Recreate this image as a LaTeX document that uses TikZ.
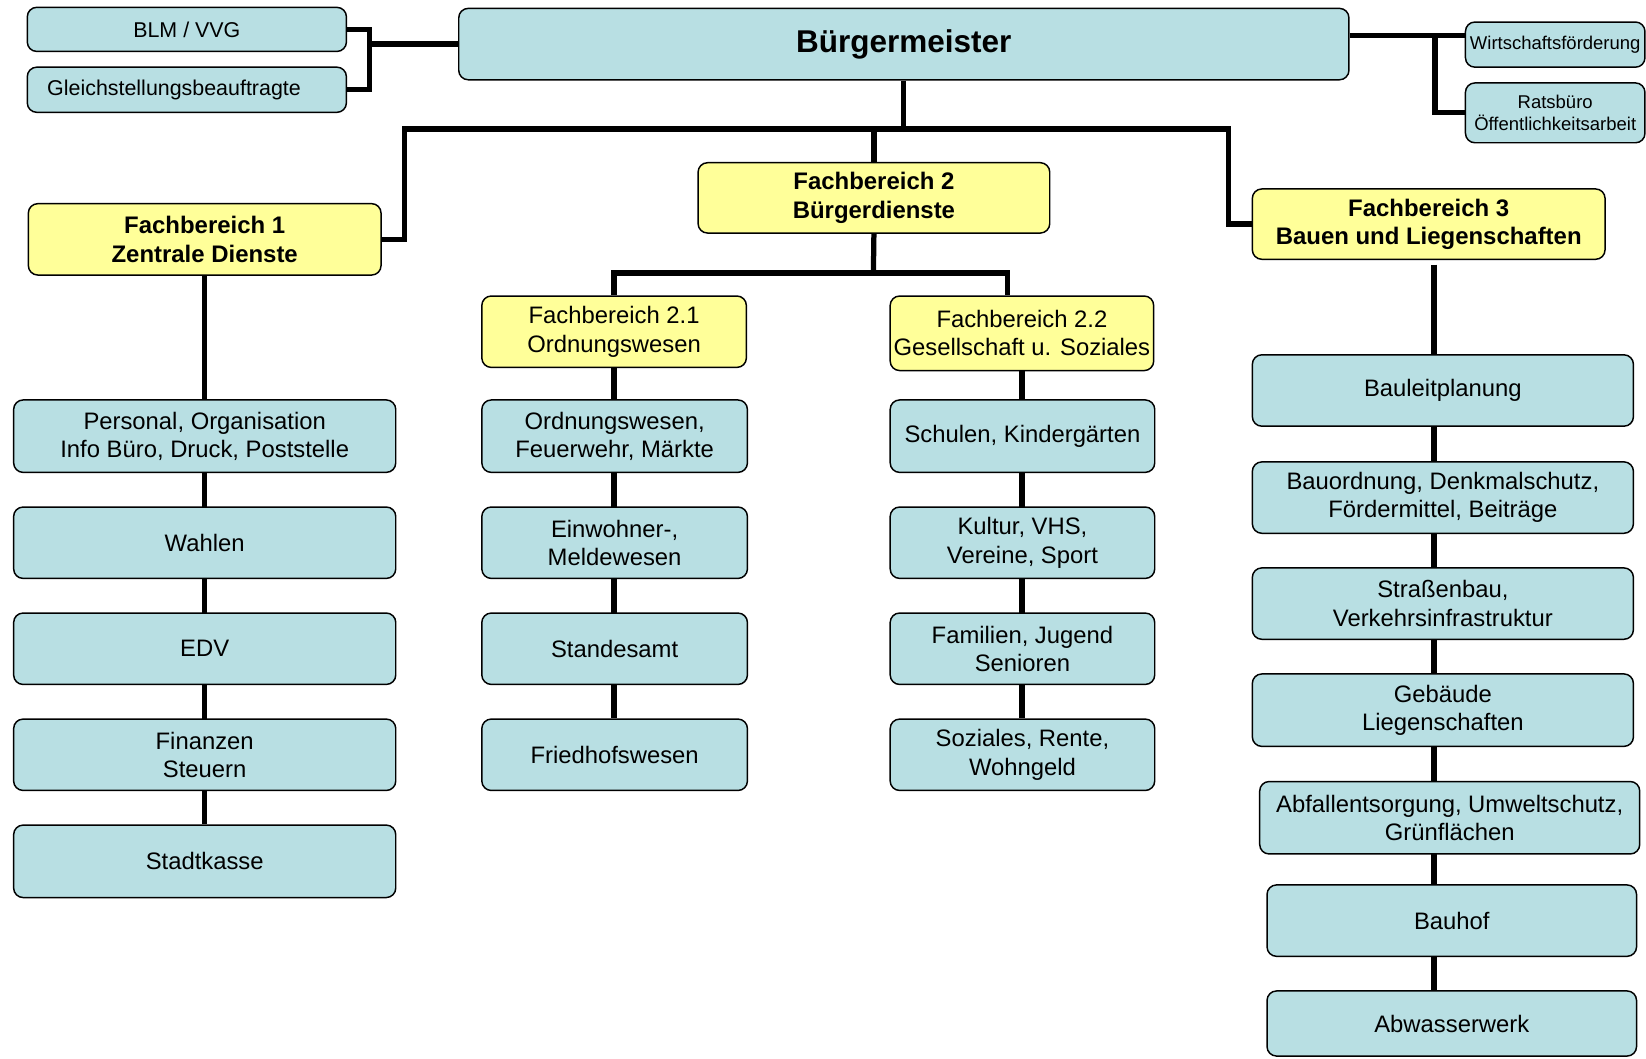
\documentclass[tikz,border=0pt]{standalone}
\usepackage{fontspec}
\setmainfont{Liberation Sans}
\usetikzlibrary{backgrounds}
\definecolor{boxblue}{RGB}{184,223,227}
\definecolor{boxyellow}{RGB}{255,255,153}
\begin{document}
\begin{tikzpicture}[x=1pt,y=-1pt,
  base/.style={draw=black, line width=1.4pt, rounded corners=9pt, inner sep=0pt, align=center},
  sz/.style 2 args={minimum width=#1pt, minimum height=#2pt},
  bluebox/.style={base, fill=boxblue, font=\fontsize{22.7}{27}\selectfont},
  smallbox/.style={base, fill=boxblue, font=\fontsize{20.4}{24}\selectfont},
  rbox/.style={base, fill=boxblue, font=\fontsize{17.6}{21}\selectfont},
  bmbox/.style={base, fill=boxblue, font=\fontsize{30}{34}\selectfont\bfseries},
  fbbold/.style={base, fill=boxyellow, font=\fontsize{22.8}{27}\selectfont\bfseries},
  fbreg/.style={base, fill=boxyellow, font=\fontsize{22.7}{27}\selectfont},
  conn/.style={draw=black, line width=5pt}]
\useasboundingbox (0,0) rectangle (1568,1008);

% top row
\node[smallbox, sz={304}{42}] (blm) at (178,28) {BLM / VVG};
\node[smallbox, minimum height=43pt, text width=266pt, inner xsep=19pt, align=left] (gleich) at (178,85.5) {Gleichstellungsbeauftragte};
\node[bmbox, sz={848}{68}] (bm) at (861,42) {Bürgermeister};
\node[rbox, sz={171}{43}] (wirt) at (1481.5,42.5) {Wirtschaftsförderung};
\node[rbox, sz={171}{57}] (rats) at (1481.5,107.5) {Ratsbüro\\Öffentlichkeitsarbeit};

% Fachbereiche
\node[fbbold, sz={336}{68}] (fb1) at (195,228) {Fachbereich 1\\Zentrale Dienste};
\node[fbbold, sz={335}{67}] (fb2) at (832.5,188.5) {Fachbereich 2\\Bürgerdienste};
\node[fbbold, sz={336}{67}] (fb3) at (1361,213.5) {Fachbereich 3\\Bauen und Liegenschaften};
\node[fbreg, sz={252}{68}] (fb21) at (585,316) {Fachbereich 2.1\\Ordnungswesen};
\node[fbreg, sz={251}{71}] (fb22) at (973.5,317.5) {Fachbereich 2.2\\Gesellschaft u. Soziales};

% FB1 column
\node[bluebox, sz={364}{69}] (pers) at (195,415.5) {Personal, Organisation\\Info Büro, Druck, Poststelle};
\node[bluebox, sz={364}{68}] (wahl) at (195,517) {Wahlen};
\node[bluebox, sz={364}{68}] (edv) at (195,618) {EDV};
\node[bluebox, sz={364}{68}] (fin) at (195,719) {Finanzen\\Steuern};
\node[bluebox, sz={364}{69}] (stk) at (195,820.5) {Stadtkasse};

% FB2.1 column
\node[bluebox, sz={253}{69}] (ord) at (585.5,415.5) {Ordnungswesen,\\Feuerwehr, Märkte};
\node[bluebox, sz={253}{68}] (ein) at (585.5,517) {Einwohner-,\\Meldewesen};
\node[bluebox, sz={253}{68}] (std) at (585.5,618) {Standesamt};
\node[bluebox, sz={253}{68}] (fri) at (585.5,719) {Friedhofswesen};

% FB2.2 column
\node[bluebox, sz={252}{69}] (sch) at (974,415.5) {Schulen, Kindergärten};
\node[bluebox, sz={252}{68}] (kul) at (974,517) {Kultur, VHS,\\Vereine, Sport};
\node[bluebox, sz={252}{68}] (fam) at (974,618) {Familien, Jugend\\Senioren};
\node[bluebox, sz={252}{68}] (soz) at (974,719) {Soziales, Rente,\\Wohngeld};

% FB3 column
\node[bluebox, sz={363}{68}] (bl) at (1374.5,372) {Bauleitplanung};
\node[bluebox, sz={363}{68}] (bo) at (1374.5,474) {Bauordnung, Denkmalschutz,\\Fördermittel, Beiträge};
\node[bluebox, sz={363}{68}] (sb) at (1374.5,575) {Straßenbau,\\Verkehrsinfrastruktur};
\node[bluebox, sz={363}{69}] (gb) at (1374.5,676.5) {Gebäude\\Liegenschaften};
\node[bluebox, sz={362}{69}] (ab) at (1381,779) {Abfallentsorgung, Umweltschutz,\\Grünflächen};
\node[bluebox, sz={352}{68}] (bh) at (1383,877) {Bauhof};
\node[bluebox, sz={352}{62}] (aw) at (1383,975) {Abwasserwerk};

% coordinates
\coordinate (jl) at (352,42);
\coordinate (jr) at (1367,34);
\coordinate (tm) at (861,123);
\coordinate (jl1) at (385,123);
\coordinate (jr3) at (1170,123);
\coordinate (j2) at (832,260);
\coordinate (j22) at (960,260);
\coordinate (c3) at (1366,252);

% connectors
\draw[conn] (blm.east) -| (jl) |- (gleich.east);
\draw[conn] (jl) -- (bm.west);
\draw[conn] (bm.east |- jr) -- (jr) |- (rats.west);
\draw[conn] (jr) -- (wirt.west |- jr);
\draw[conn] (bm.south) -- (tm);
\draw[conn] (fb1.east) -| (jl1) -- (jr3) |- (fb3.west);
\draw[conn] (fb2.north) -- (fb2.north |- jl1);
\draw[conn] (fb2.south) -- (j2);
\draw[conn] (fb21.north) |- (j2) -- (j22) -- (j22 |- fb22.north);

\begin{scope}[on background layer]
\draw[conn] (fb1.south) -- (fb1.south |- stk.north);
\draw[conn] (fb21.south) -- (fb21.south |- fri.north);
\draw[conn] (fb22.south) -- (fb22.south |- soz.north);
\draw[conn] (c3) -- (c3 |- aw.north);
\end{scope}
\end{tikzpicture}
\end{document}
